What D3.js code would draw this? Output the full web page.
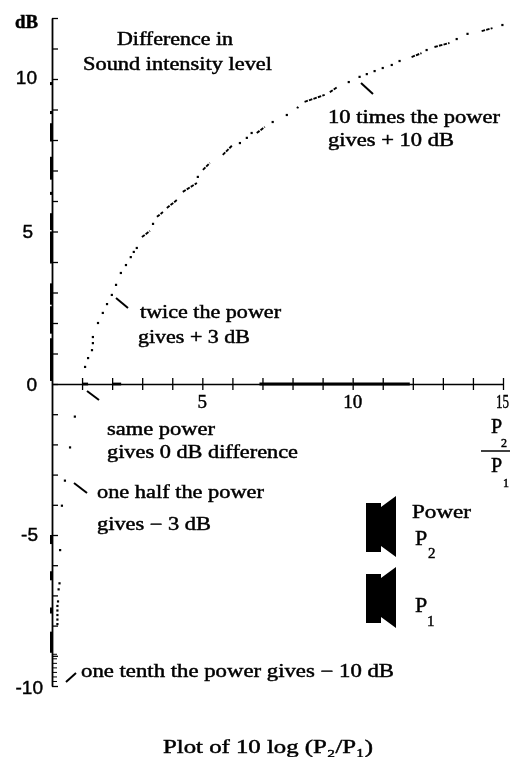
<!DOCTYPE html>
<html><head><meta charset="utf-8">
<script src="https://cdnjs.cloudflare.com/ajax/libs/d3/7.8.5/d3.min.js"></script>
<style>
html,body{margin:0;padding:0;background:#fff}
svg{display:block;filter:blur(0.5px)}
text{font-family:"Liberation Serif",serif;fill:#000;stroke:#000;stroke-width:.45px}
</style></head><body>
<script>
// Values
const xTicks = d3.range(1, 16);
const yTicks = d3.range(-10, 13);
const xTickLabels = [5, 10, 15];
const yTickLabels = [10, 5, 0, -5, -10];
const combTicks = [-9.85, -9.7, -9.55, -9.4, -9.25, -9.1, -8.95];

// single dots on the curve: [P2/P1, dB]
const curveDots = [[1.10,.56],[1.2,.85],[1.33,1.11],[1.36,1.34],[1.36,1.54],[1.53,2.0],[1.69,2.33],[1.83,2.62],[1.99,2.92],[2.13,3.25],[2.29,3.64],[2.46,3.9],[2.62,4.16],[2.72,4.33],[2.82,4.46],[3.36,5.25],[4.85,6.79],[6.25,7.9],[6.48,8.07],[6.64,8.23],[7.34,8.59],[7.81,8.82],[9.87,9.9],[10.23,10.07],[10.47,10.16],[10.73,10.26],[11.0,10.36],[11.3,10.46],[11.56,10.59],[12.46,10.95],[13.46,11.31],[13.82,11.48],[14.98,11.77]];
// dashes on the curve: [r1, dB1, r2, dB2]
const curveDashes = [[2.99,4.82,3.26,5.02],[3.49,5.48,3.69,5.64],[3.82,5.77,4.15,6.03],[4.35,6.3,4.82,6.59],[5.02,7.02,5.25,7.25],[5.68,7.51,6.01,7.84],[6.81,8.23,7.08,8.43],[8.14,9.08,8.2,9.05],[8.4,9.25,9.07,9.48],[9.24,9.57,9.5,9.74],[11.96,10.72,12.29,10.85],[12.72,11.05,13.22,11.18],[14.29,11.57,14.65,11.67]];
// the branch below 0 dB
const lowerDots = [[.76,-1.08],[.6,-2.1],[.43,-3.2],[.33,-4.03],[.27,-5.5],[.25,-6.6],[.22,-6.8],[.2,-7.2],[.18,-7.35],[.18,-7.5],[.18,-7.65],[.18,-7.8],[.18,-7.95]];
// thick stretches of the printed axes
const yLumps = [[9.8,9.9],[8.85,8.95],[7.95,8.55],[6.7,7.45],[6.2,6.3],[5.05,5.6],[3.95,5.0],[2.6,3.3],[1.65,2.55],[.1,1.5],[-5,-5.3],[-6.2,-6.5],[-7.4,-7.6],[-8.2,-8.9]];
const xLumps = [[1,1.2],[2,2.3],[6.9,10],[10,11.9]];

const titleLines = ["Difference in", "Sound intensity level"];
const noteLines = ["10 times the power","gives + 10 dB","twice the power","gives + 3 dB","same power","gives 0 dB difference","one half the power","gives − 3 dB","one tenth the power gives − 10 dB"];
const footLabel = "Plot of 10 log (P₂/P₁)";
const powerLabel = "Power";

// Layout
const noteLayout = [[328,123,172],[328,146,126],[140,318,141],[138,343,112],[107,435,108],[107,458,191],[97,498,167],[97,530,114],[81,677,313]];
const titleLayout = [[117,45,116],[83,70,189]];
const leaders = [[116,298,128,308],[361,83,373,94],[87,391,99,400],[74,483,87,493],[66,682,76,673]];

const svg = d3.select("body").append("svg").attr("width",510).attr("height",757);
const x = d3.scaleLinear().domain([0,15]).range([52,503]);
const y = d3.scaleLinear().domain([-10,0,12]).range([686,384,18]);

// Axes
const gy = svg.append("g").attr("transform",`translate(${x(0)},0)`)
  .call(d3.axisRight(y).tickValues(yTicks).tickSizeInner(6).tickSizeOuter(0).tickFormat(""));
gy.select(".domain").attr("stroke","#000").attr("stroke-width",1.8);
gy.selectAll(".tick line").attr("stroke","#000").attr("stroke-width",1.3);
const gx = svg.append("g").attr("transform",`translate(0,${y(0)})`)
  .call(d3.axisBottom(x).tickValues(xTicks).tickSizeInner(6).tickSizeOuter(0).tickFormat(""));
gx.select(".domain").attr("stroke","#000").attr("stroke-width",1.6);
gx.selectAll(".tick line").attr("y1",-6).attr("stroke","#000").attr("stroke-width",1.3);
svg.append("g").selectAll("line").data(combTicks).join("line")
  .attr("x1",x(0)).attr("x2",x(0)+5).attr("y1",d=>y(d)).attr("y2",d=>y(d))
  .attr("stroke","#000").attr("stroke-width",1);
svg.append("g").selectAll("line").data(yLumps).join("line")
  .attr("x1",x(0)-.5).attr("x2",x(0)-.5).attr("y1",d=>y(d[0])).attr("y2",d=>y(d[1]))
  .attr("stroke","#000").attr("stroke-width",3);
svg.append("g").selectAll("line").data(xLumps).join("line")
  .attr("x1",d=>x(d[0])).attr("x2",d=>x(d[1])).attr("y1",y(0)).attr("y2",y(0))
  .attr("stroke","#000").attr("stroke-width",2.8);

// Curve
svg.append("g").selectAll("rect").data(curveDots.concat(lowerDots)).join("rect")
  .attr("x",d=>x(d[0])-1.1).attr("y",d=>y(d[1])-1.1).attr("width",2.2).attr("height",2.2).attr("fill","#000");
svg.append("g").selectAll("line").data(curveDashes).join("line")
  .attr("x1",d=>x(d[0])).attr("y1",d=>y(d[1])).attr("x2",d=>x(d[2])).attr("y2",d=>y(d[3]))
  .attr("stroke","#000").attr("stroke-width",1.9).attr("stroke-dasharray","3.5 1.2");

// Leaders
svg.append("g").selectAll("line").data(leaders).join("line")
  .attr("x1",d=>d[0]).attr("y1",d=>d[1]).attr("x2",d=>d[2]).attr("y2",d=>d[3])
  .attr("stroke","#000").attr("stroke-width",2);

// Text helper
function put(str,px,py,len,size=18,anchor="start",bold=false){
  const t = svg.append("text").attr("x",px).attr("y",py).attr("font-size",size).attr("text-anchor",anchor).text(str);
  if(len) t.attr("textLength",len).attr("lengthAdjust","spacingAndGlyphs");
  if(bold) t.attr("font-weight","bold");
  return t;
}
titleLines.forEach((s,i)=>put(s,titleLayout[i][0],titleLayout[i][1],titleLayout[i][2]));
noteLines.forEach((s,i)=>put(s,noteLayout[i][0],noteLayout[i][1],noteLayout[i][2]));
put("dB",15,28,23,18,"start",true);
const yLabelShift = {"10":5,"5":6,"0":7,"-5":6,"-10":8};
const yLabelRight = {"10":37,"5":33,"0":37,"-5":38,"-10":43};
yTickLabels.forEach(v=>{
  put(String(v), yLabelRight[v], y(v)+yLabelShift[v], null, 19, "end").style("font-family","'Liberation Sans',sans-serif").attr("stroke-width",.2);
});
[5,10].forEach(v=>put(String(v), x(v), y(0)+24, null, 19, "middle"));
put(String(xTickLabels[2]), 509, y(0)+24, 13, 19, "end");

// P2 / P1 fraction label
put("P",491,433,null,20);
put("2",501,447,null,12);
svg.append("line").attr("x1",481).attr("x2",510).attr("y1",451).attr("y2",451).attr("stroke","#000").attr("stroke-width",1.5);
put("P",491,472,null,20);
put("1",503,487,null,12);

// Speakers
const speakerShape = [[0,0],[15,0],[15,4],[30,-7],[30,54],[15,43],[15,49],[0,49]];
const speakerTops = [[366,503],[366,574]];
svg.append("g").selectAll("polygon").data(speakerTops).join("polygon")
  .attr("points",d=>speakerShape.map(p=>[p[0]+d[0],p[1]+d[1]].join(",")).join(" "))
  .attr("fill","#000");
put(powerLabel,412,518,59);
put("P",415,545,null,22); put("2",428,558,null,15);
put("P",415,612,null,22); put("1",427,626,null,15);

put(footLabel,163,753,210);
</script>
</body></html>
